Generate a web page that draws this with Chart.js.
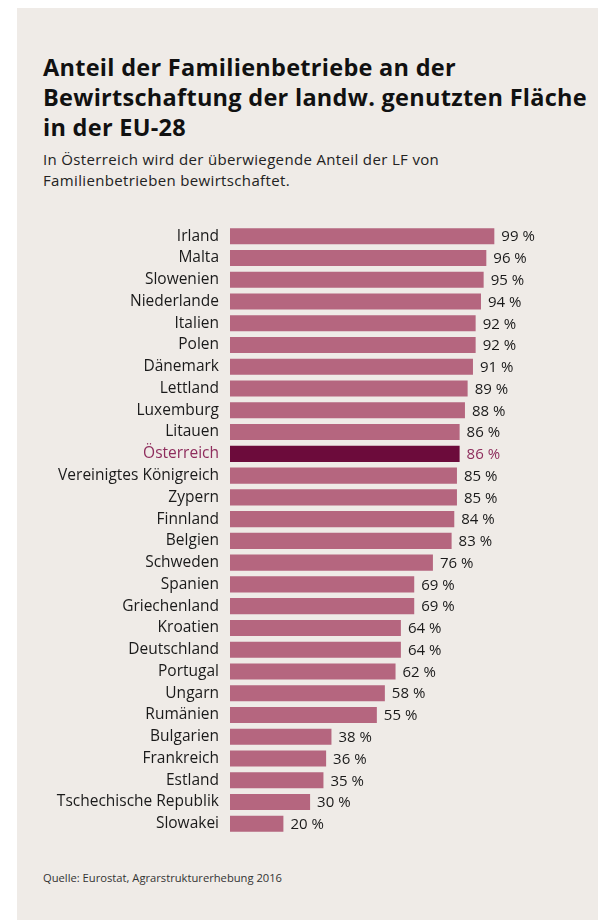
<!DOCTYPE html>
<html lang="de">
<head>
    <meta charset="UTF-8">
    <title>Familienbetriebe EU-28</title>
    <script src="https://cdn.jsdelivr.net/npm/chart.js@4"></script>
    <style>
        body { margin: 0; background: #fff; font-family: "Open Sans", sans-serif; }
        #panel { position: absolute; left: 17px; top: 8px; width: 581px; height: 912px; background: #efebe7; }
        h1 { position: absolute; left: 26px; top: 44px; margin: 0; font-size: 23.5px; line-height: 30px; font-weight: 700; color: #111; letter-spacing: 0.28px; }
        #sub { position: absolute; left: 26px; top: 141px; margin: 0; font-size: 15px; line-height: 21px; color: #222; letter-spacing: 0.35px; }
        #src { position: absolute; left: 26px; top: 862px; font-size: 11.2px; color: #333; }
        #wrap { position: absolute; left: 0; top: 205px; width: 581px; height: 634px; }
    </style>
</head>
<body>
<div id="panel">
    <h1>Anteil der Familienbetriebe an der<br>Bewirtschaftung der landw. genutzten Fläche<br>in der EU-28</h1>
    <p id="sub">In Österreich wird der überwiegende Anteil der LF von<br>Familienbetrieben bewirtschaftet.</p>
    <div id="wrap"><canvas id="chart" width="581" height="634"></canvas></div>
    <div id="src">Quelle: Eurostat, Agrarstrukturerhebung 2016</div>
</div>
<script>
    const countries = ['Irland', 'Malta', 'Slowenien', 'Niederlande', 'Italien', 'Polen', 'Dänemark',
        'Lettland', 'Luxemburg', 'Litauen', 'Österreich', 'Vereinigtes Königreich', 'Zypern', 'Finnland',
        'Belgien', 'Schweden', 'Spanien', 'Griechenland', 'Kroatien', 'Deutschland', 'Portugal', 'Ungarn',
        'Rumänien', 'Bulgarien', 'Frankreich', 'Estland', 'Tschechische Republik', 'Slowakei'];
    const shares = [99, 96, 95, 94, 92, 92, 91, 89, 88, 86, 86, 85, 85, 84, 83, 76, 69, 69, 64, 64, 62, 58, 55, 38, 36, 35, 30, 20];
    const highlight = 'Österreich';

    const barColor = '#b5667f';
    const hiColor = '#6c0b3b';
    const hiText = '#8e2c5c';

    const valueLabels = {
        id: 'valueLabels',
        afterDatasetsDraw(chart) {
            const ctx = chart.ctx;
            const meta = chart.getDatasetMeta(0);
            ctx.save();
            ctx.font = '15px "Open Sans"';
            ctx.textBaseline = 'middle';
            meta.data.forEach((bar, i) => {
                ctx.fillStyle = countries[i] === highlight ? hiText : '#1a1a1a';
                ctx.fillText(shares[i] + ' %', bar.x + 7, bar.y + 1);
            });
            ctx.restore();
        }
    };

    new Chart(document.getElementById('chart'), {
        type: 'bar',
        data: {
            labels: countries,
            datasets: [{
                data: shares,
                backgroundColor: countries.map(c => c === highlight ? hiColor : barColor),
                barPercentage: 0.74,
                categoryPercentage: 1
            }]
        },
        options: {
            indexAxis: 'y',
            responsive: false,
            animation: false,
            layout: { padding: { top: 0, bottom: 2, left: 0, right: 101 } },
            plugins: { legend: { display: false }, tooltip: { enabled: false } },
            scales: {
                x: { min: 0, max: 100, display: false },
                y: {
                    grid: { display: false },
                    border: { display: false },
                    afterFit(scale) { scale.width = 213; },
                    ticks: {
                        padding: 3,
                        autoSkip: false,
                        font: { family: 'Open Sans', size: 15.5 },
                        color: ctx => countries[ctx.index] === highlight ? hiText : '#1a1a1a'
                    }
                }
            }
        },
        plugins: [valueLabels]
    });
</script>
</body>
</html>
